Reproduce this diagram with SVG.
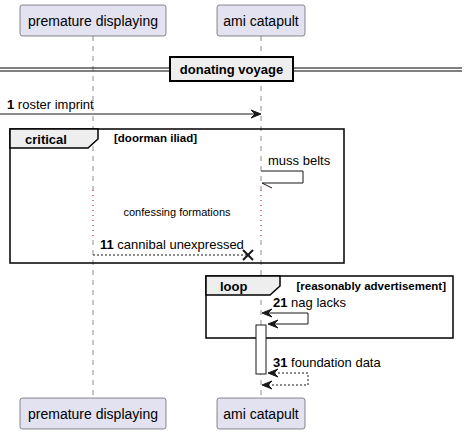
<svg xmlns="http://www.w3.org/2000/svg" width="468" height="434" viewBox="0 0 468 434">
<style>
text{font-family:"Liberation Sans",Arial,sans-serif;fill:#000}
.part rect{fill:#E2E2F0;stroke:#181818;stroke-width:0.5}
.part text{font-size:14px;text-anchor:middle}
.life{stroke:#181818;stroke-width:0.5;stroke-dasharray:5,5;fill:none}
.delay{stroke:#8B0000;stroke-width:1;stroke-dasharray:1,4;fill:none}
.msg{stroke:#181818;stroke-width:1;fill:none}
.dash{stroke-dasharray:2,2}
.head{fill:#181818;stroke:#181818;stroke-width:1}
.m{font-size:13px}
.b{font-weight:bold}
.frame{fill:none;stroke:#000;stroke-width:1.5}
.tab{fill:#EEEEEE;stroke:#000;stroke-width:1.5}
.g{font-size:11.5px;font-weight:bold}
</style>
<defs>
<polygon id="ah" points="0,0 10,-4 6,0 10,4"/>
</defs>
<g id="lifelines">
<line class="life" x1="93" y1="36" x2="93" y2="190"/>
<line class="delay" x1="93" y1="190" x2="93" y2="240"/>
<line class="life" x1="93" y1="240" x2="93" y2="398"/>
<line class="life" x1="261" y1="36" x2="261" y2="190"/>
<line class="delay" x1="261" y1="190" x2="261" y2="240"/>
<line class="life" x1="261" y1="240" x2="261" y2="398"/>
</g>
<g id="premature_top" class="part"><rect x="20" y="5" width="146" height="31" rx="2.5"/><text x="93" y="25.5">premature displaying</text></g>
<g id="ami_top" class="part"><rect x="217" y="5" width="88" height="31" rx="2.5"/><text x="261" y="25.5">ami catapult</text></g>
<g id="premature_bottom" class="part"><rect x="20" y="398" width="146" height="31" rx="2.5"/><text x="93" y="418.5">premature displaying</text></g>
<g id="ami_bottom" class="part"><rect x="217" y="398" width="88" height="31" rx="2.5"/><text x="261" y="418.5">ami catapult</text></g>
<g id="divider">
<line x1="0" y1="68" x2="462" y2="68" stroke="#000" stroke-width="1"/>
<line x1="0" y1="71" x2="462" y2="71" stroke="#000" stroke-width="1"/>
<rect x="170" y="57" width="123" height="24" fill="#EEEEEE" stroke="#000" stroke-width="2"/>
<text x="231.5" y="74" class="m b" text-anchor="middle">donating voyage</text>
</g>
<g id="critical">
<rect class="frame" x="10" y="129" width="334" height="134"/>
<polygon class="tab" points="10,129 98,129 98,139 88,148 10,148"/>
<text x="25" y="143.5" class="m b">critical</text>
<text x="114" y="142" class="g">[doorman iliad]</text>
</g>
<g id="loop">
<rect class="frame" x="206" y="276" width="247" height="62"/>
<polygon class="tab" points="206,276 280,276 280,286 270,295 206,295"/>
<text x="220" y="290.5" class="m b">loop</text>
<text x="446" y="289.5" class="g" text-anchor="end">[reasonably advertisement]</text>
</g>
<g id="activation"><rect x="256" y="325" width="10" height="49" fill="#FFFFFF" stroke="#181818" stroke-width="1"/></g>
<g id="delay_note"><text x="177" y="216" font-size="11" text-anchor="middle">confessing formations</text></g>
<g id="connectors">
<line class="msg" x1="0" y1="114" x2="259" y2="114"/>
<use href="#ah" class="head" transform="translate(261,114) rotate(180)"/>
<text x="7" y="109" class="m"><tspan class="b">1</tspan> roster imprint</text>

<polyline class="msg" points="261,171 303,171 303,183 262,183"/>
<line class="msg" x1="262" y1="183" x2="272" y2="188"/>
<text x="268" y="165" class="m">muss belts</text>

<line class="msg dash" x1="93" y1="255" x2="248" y2="255"/>
<line x1="243" y1="250" x2="253" y2="260" stroke="#181818" stroke-width="2"/>
<line x1="243" y1="260" x2="253" y2="250" stroke="#181818" stroke-width="2"/>
<text x="100" y="249" class="m"><tspan class="b">11</tspan> cannibal unexpressed</text>

<polyline class="msg" points="264,313 308,313 308,324 270,324"/>
<use href="#ah" class="head" transform="translate(262,313)"/>
<use href="#ah" class="head" transform="translate(268,324)"/>
<text x="273" y="307" class="m"><tspan class="b">21</tspan> nag lacks</text>

<polyline class="msg dash" points="270,373 308,373 308,385 264,385"/>
<use href="#ah" class="head" transform="translate(268,373)"/>
<use href="#ah" class="head" transform="translate(262,385)"/>
<text x="273" y="367" class="m"><tspan class="b">31</tspan> foundation data</text>
</g>
</svg>
